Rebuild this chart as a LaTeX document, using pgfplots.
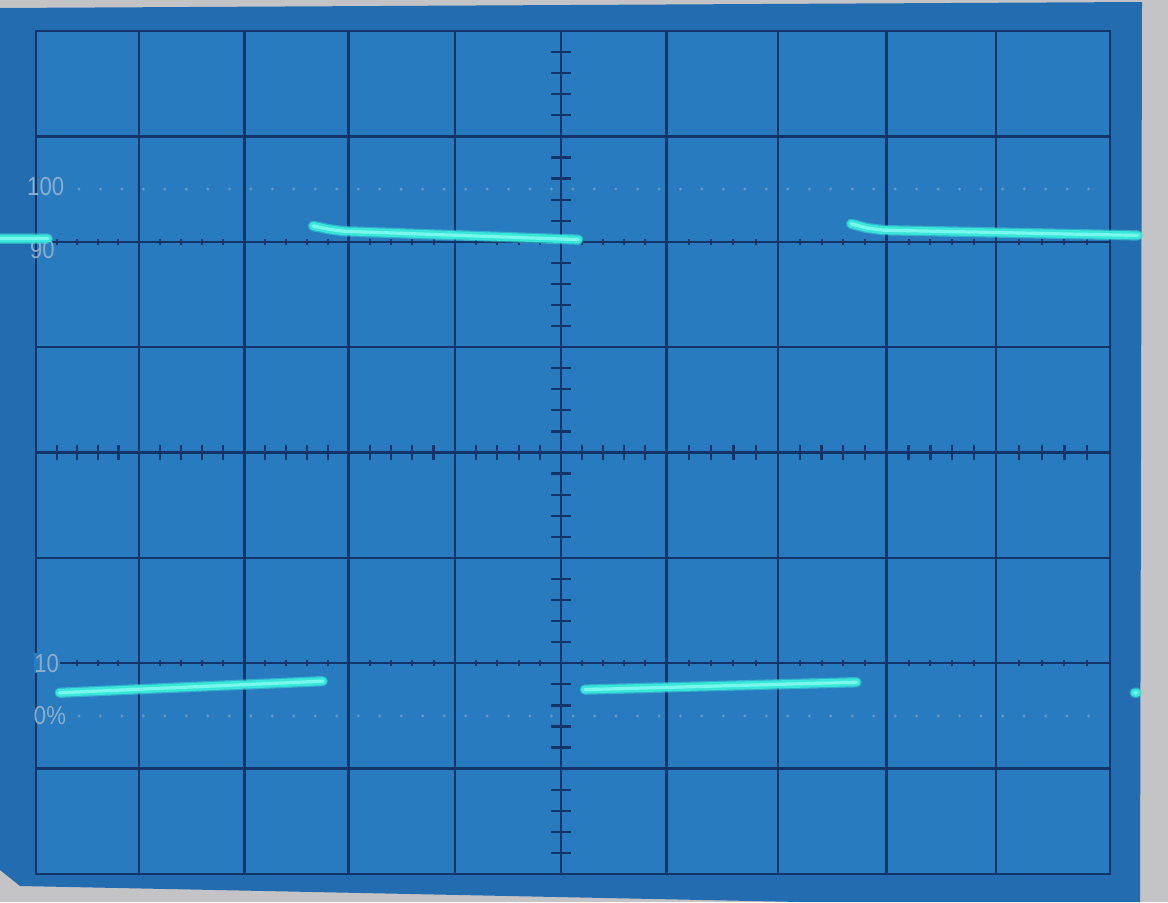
\documentclass[border=0pt]{standalone}
\usepackage{pgfplots}
\pgfplotsset{compat=1.18}
\usepackage{pgfplotstable}
\usepackage{fontspec}
\setmainfont{Liberation Sans}
\definecolor{paper}{RGB}{196,196,198}
\definecolor{bezel}{RGB}{35,108,176}
\definecolor{screenc}{RGB}{41,123,191}
\definecolor{gridc}{RGB}{18,52,104}
\definecolor{tracec}{RGB}{58,230,218}
\definecolor{tracecore}{RGB}{120,248,236}
\definecolor{labelc}{RGB}{140,172,204}

\pgfplotstableread{
x y
-0.34 6.03
0.11 6.03
nan nan
0.22 1.72
2.67 1.83
nan nan
2.58 6.15
2.72 6.12
2.86 6.10
5.05 6.02
nan nan
5.11 1.75
7.64 1.82
nan nan
7.59 6.17
7.74 6.13
7.89 6.11
10.26 6.06
nan nan
10.23 1.72
10.25 1.72
}\tracedata

\begin{document}
\begin{tikzpicture}
\path[use as bounding box, fill=paper] (0,0) rectangle (584pt,451pt);
\fill[bezel] (0pt,447pt) -- (571pt,450pt) -- (570pt,0pt) -- (400pt,0pt) -- (10pt,8pt) -- (0pt,16pt) -- cycle;
\begin{axis}[
  at={(18pt,14pt)}, anchor=south west,
  width=537pt, height=421.5pt, scale only axis,
  xmin=0, xmax=10, ymin=0, ymax=8,
  xtick={0,0.96,1.94,2.91,3.90,4.89,5.87,6.91,7.92,8.94,10}, ytick={0,...,8},
  xticklabels={}, yticklabels={},
  major tick length=0pt,
  grid=major,
  major grid style={draw=gridc, line width=1.2pt},
  axis line style={draw=gridc, line width=1.4pt},
  axis background/.style={fill=screenc},
  clip=false,
  unbounded coords=jump,
]
% graticule ticks on centre lines
\pgfplotsinvokeforeach{0.192,0.384,0.576,0.768,0.96,1.156,1.352,1.548,1.744,1.94,2.134,2.328,2.522,2.716,2.91,3.108,3.306,3.504,3.702,3.90,4.098,4.296,4.494,4.692,5.086,5.282,5.478,5.674,5.87,6.078,6.286,6.494,6.702,6.91,7.112,7.314,7.516,7.718,7.92,8.124,8.328,8.532,8.736,8.94,9.152,9.364,9.576,9.788}{
  \draw[gridc, line width=1.1pt] (axis cs:#1,3.925) -- (axis cs:#1,4.075);
  \draw[gridc, line width=1.0pt] (axis cs:#1,5.97) -- (axis cs:#1,6.03);
  \draw[gridc, line width=1.0pt] (axis cs:#1,1.97) -- (axis cs:#1,2.03);
}
\pgfplotsinvokeforeach{1,...,39}{
  \draw[gridc, line width=1.1pt] (axis cs:4.797,{#1/5}) -- (axis cs:4.983,{#1/5});
}
% 100% and 0% dotted lines
\draw[labelc!60!screenc, line width=1.6pt, dash pattern=on 0pt off 10.74pt, line cap=round] (axis cs:0.4,6.5) -- (axis cs:10,6.5);
\draw[labelc!60!screenc, line width=1.6pt, dash pattern=on 0pt off 10.74pt, line cap=round] (axis cs:0.4,1.5) -- (axis cs:10,1.5);
% labels
\node[labelc, font=\fontsize{13}{13}\selectfont, xscale=0.85] at (axis cs:0.09,6.52) {100};
\node[labelc, font=\fontsize{13}{13}\selectfont, xscale=0.85] at (axis cs:0.06,5.93) {90};
\node[labelc, font=\fontsize{13}{13}\selectfont, xscale=0.85, fill=screenc, inner sep=0.5pt] at (axis cs:0.1,2.0) {10};
\node[labelc, font=\fontsize{13}{13}\selectfont, xscale=0.85] at (axis cs:0.13,1.5) {0\%};
% trace
\addplot[tracec, opacity=0.5, line width=5.2pt, line cap=round] table[x=x,y=y] {\tracedata};
\addplot[tracec, line width=4pt, line cap=round] table[x=x,y=y] {\tracedata};
\addplot[tracecore, line width=1.6pt, line cap=round] table[x=x,y=y] {\tracedata};
\end{axis}
\end{tikzpicture}
\end{document}
